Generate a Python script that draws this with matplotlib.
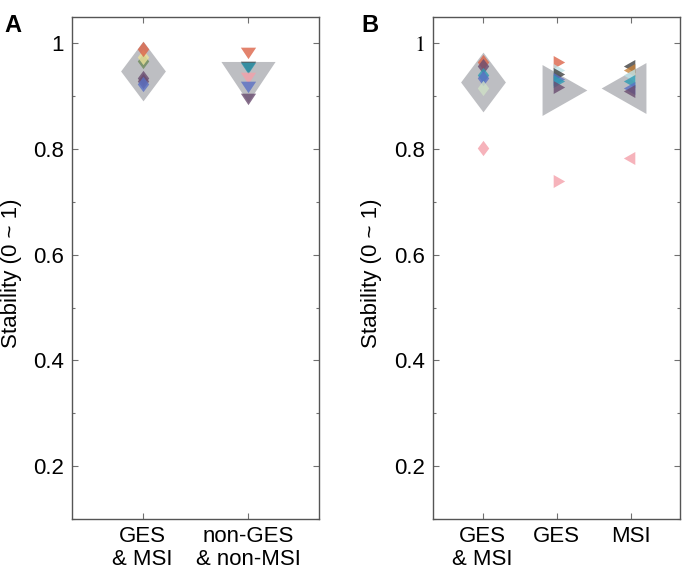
import matplotlib
matplotlib.use('Agg')
import matplotlib.pyplot as plt
from matplotlib.ticker import MultipleLocator, FixedLocator

plt.rcParams['font.family'] = ['Liberation Sans', 'DejaVu Sans']
plt.rcParams['mathtext.fontset'] = 'stix'

# colours of the individual series
RED = '#DC6448'
YELLOW = '#ECE29A'
GREEN = '#6E8A5A'
PALEGREEN = '#CFE0C6'
PURPLE = '#6A4C70'
BLUE = '#5A70C4'
TEAL = '#2E9CB4'
PALECYAN = '#BFE3E8'
DARK = '#404040'
BROWN = '#C8843C'
PINK = '#F4A0AA'
GRAY = '#BDBEC2'

# panel A
a_labels = ['GES\n& MSI', 'non-GES\n& non-MSI']
a_yticks = ['0.2', '0.4', '0.6', '0.8', '1']
a_means = [0.947, 0.940]
a_vals_1 = [0.966, 0.973, 0.935, 0.928, 0.922, 0.989]
a_cols_1 = [GREEN, YELLOW, PURPLE, PURPLE, BLUE, RED]
a_vals_2 = [0.986, 0.958, 0.957, 0.938, 0.921, 0.898]
a_cols_2 = [RED, DARK, TEAL, PINK, BLUE, PURPLE]

# panel B (its "1" is printed in a serif face in the original)
b_labels = ['GES\n& MSI', 'GES', 'MSI']
b_yticks = ['0.2', '0.4', '0.6', '0.8', r'$\mathrm{1}$']
b_means = [0.927, 0.911, 0.915]
b_vals_1 = [0.965, 0.957, 0.940, 0.934, 0.916, 0.802]
b_cols_1 = [RED, PURPLE, TEAL, BLUE, PALEGREEN, PINK]
b_vals_2 = [0.964, 0.950, 0.941, 0.933, 0.928, 0.918, 0.739]
b_cols_2 = [RED, PALECYAN, DARK, BLUE, TEAL, PURPLE, PINK]
b_vals_3 = [0.956, 0.950, 0.940, 0.928, 0.916, 0.909, 0.783]
b_cols_3 = [DARK, BROWN, PALECYAN, TEAL, BLUE, PURPLE, PINK]

# MATLAB-like marker shapes (triangles are centred on their centroid)
DIAMOND = [(0, 1), (0.75, 0), (0, -1), (-0.75, 0), (0, 1)]
TRI_DOWN = [(-1, 0.5), (1, 0.5), (0, -1), (-1, 0.5)]
TRI_RIGHT = [(-0.587, 1), (1.173, 0), (-0.587, -1), (-0.587, 1)]
TRI_LEFT = [(0.587, 1), (-1.173, 0), (0.587, -1), (0.587, 1)]


def draw_group(ax, x, mean, vals, cols, marker, big, small):
    ax.plot([x], [mean], marker=marker, markersize=big, color=GRAY,
            markeredgewidth=0, linestyle='none', zorder=2)
    for v, c in zip(vals, cols):
        ax.plot([x], [v], marker=marker, markersize=small, color=c, alpha=0.8,
                markeredgewidth=0, linestyle='none', zorder=3)


def style_axes(ax, labels, yticks):
    ax.set_ylim(0.1, 1.05)
    ax.set_xlim(0.33, len(labels) + 0.67)
    ax.set_xticks(range(1, len(labels) + 1))
    ax.set_xticklabels(labels, fontsize=16, linespacing=1.15)
    ax.yaxis.set_major_locator(FixedLocator([0.2, 0.4, 0.6, 0.8, 1.0]))
    ax.yaxis.set_minor_locator(MultipleLocator(0.1))
    ax.set_yticklabels(yticks, fontsize=16)
    ax.tick_params(which='both', direction='in', top=True, right=True,
                   color='#707070', width=0.8)
    ax.tick_params(which='major', length=4, pad=6)
    ax.tick_params(which='minor', length=2.5)
    ax.tick_params(axis='x', pad=5)
    for s in ax.spines.values():
        s.set_color('#555555')
        s.set_linewidth(1.0)
    ax.set_ylabel('Stability (0 ~ 1)', fontsize=16)


fig = plt.figure(figsize=(6.85, 5.78), dpi=100)
ax_a = fig.add_axes([0.105, 0.102, 0.361, 0.869])
ax_b = fig.add_axes([0.632, 0.102, 0.361, 0.869])

draw_group(ax_a, 1, a_means[0], a_vals_1, a_cols_1, DIAMOND, 43, 11)
draw_group(ax_a, 2, a_means[1], a_vals_2, a_cols_2, TRI_DOWN, 39, 11)

draw_group(ax_b, 1, b_means[0], b_vals_1, b_cols_1, DIAMOND, 43, 11)
draw_group(ax_b, 2, b_means[1], b_vals_2, b_cols_2, TRI_RIGHT, 43, 11)
draw_group(ax_b, 3, b_means[2], b_vals_3, b_cols_3, TRI_LEFT, 43, 11)

style_axes(ax_a, a_labels, a_yticks)
style_axes(ax_b, b_labels, b_yticks)
ax_a.yaxis.set_label_coords(-0.20, 0.49)
ax_b.yaxis.set_label_coords(-0.205, 0.49)

fig.text(0.007, 0.975, 'A', fontsize=17, fontweight='bold', va='top')
fig.text(0.527, 0.975, 'B', fontsize=17, fontweight='bold', va='top')

fig.savefig('out.png', dpi=100)
